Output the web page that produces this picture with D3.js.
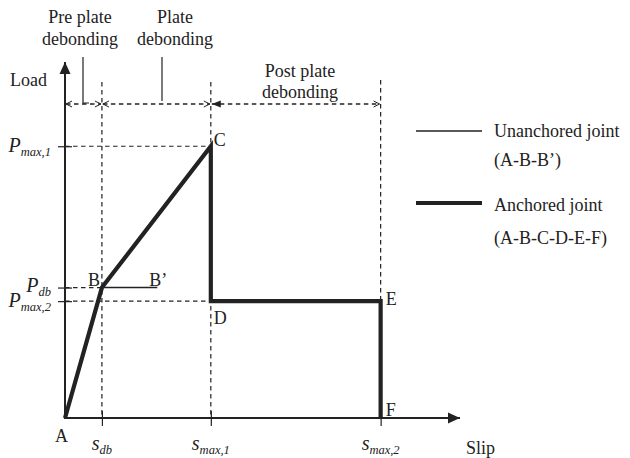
<!DOCTYPE html>
<html>
<head>
<meta charset="utf-8">
<script src="https://cdn.jsdelivr.net/npm/d3@7"></script>
<style>
  body { margin: 0; background: #fff; }
  text { font-family: "Liberation Serif", "Times New Roman", serif; fill: #222; }
</style>
</head>
<body>
<svg id="chart" width="630" height="458"></svg>
<script>
// Characteristic slip levels (abscissa) and load levels (ordinate), in relative units
const slipSymbols = ["s", "s", "s"];
const slipSubs = ["db", "max,1", "max,2"];
const slipValues = [1.0, 3.95, 8.55];

const loadSymbols = ["P", "P", "P"];
const loadSubs = ["max,1", "db", "max,2"];
const loadValues = [100, 48, 43];

// Key points of the load–slip response
const pointNames = ["A", "B", "B’", "C", "D", "E", "F"];
const pointSlip = [0, 1.0, 2.5, 3.95, 3.95, 8.55, 8.55];
const pointLoad = [0, 48, 48, 100, 43, 43, 0];

// Paths through the key points
const unanchoredPath = ["A", "B", "B’"];
const anchoredPath = ["A", "B", "C", "D", "E", "F"];

// Debonding stages along the slip axis
const stageLines = [["Pre plate", "debonding"], ["Plate", "debonding"], ["Post plate", "debonding"]];
const stageFrom = [0, 1.0, 3.95];
const stageTo = [1.0, 3.95, 8.55];

const legendNames = [["Unanchored joint", "(A-B-B’)"], ["Anchored joint", "(A-B-C-D-E-F)"]];
const legendWidths = [1.5, 4.2];

const ink = "#222";
const svg = d3.select("#chart");

const x = d3.scaleLinear().domain([0, 10.7]).range([65, 460]);
const y = d3.scaleLinear().domain([0, 131]).range([418, 62]);

const pt = name => {
  const i = pointNames.indexOf(name);
  return [x(pointSlip[i]), y(pointLoad[i])];
};

// Arrowhead markers
const defs = svg.append("defs");
defs.append("marker").attr("id", "axisHead")
  .attr("viewBox", "0 0 12 12").attr("refX", 12).attr("refY", 6)
  .attr("markerWidth", 12).attr("markerHeight", 12).attr("markerUnits", "userSpaceOnUse")
  .attr("orient", "auto")
  .append("path").attr("d", "M0,0.5 L12,6 L0,11.5 Z").attr("fill", ink);

const dimY = 104;
const dash = "4.5,3.5";

// Dashed guide lines from the axes to the key points
const guides = svg.append("g").attr("stroke", ink).attr("stroke-width", 1.2)
  .attr("stroke-dasharray", dash).attr("fill", "none");
guides.append("line").attr("x1", x(0)).attr("x2", x(slipValues[1])).attr("y1", y(loadValues[0])).attr("y2", y(loadValues[0]));
guides.append("line").attr("x1", x(0)).attr("x2", x(slipValues[0])).attr("y1", y(loadValues[1])).attr("y2", y(loadValues[1]));
guides.append("line").attr("x1", x(0)).attr("x2", x(slipValues[1])).attr("y1", y(loadValues[2])).attr("y2", y(loadValues[2]));
guides.append("line").attr("x1", x(slipValues[0])).attr("x2", x(slipValues[0])).attr("y1", 82).attr("y2", y(0));
guides.append("line").attr("x1", x(slipValues[1])).attr("x2", x(slipValues[1])).attr("y1", 82).attr("y2", y(0));
guides.append("line").attr("x1", x(slipValues[2])).attr("x2", x(slipValues[2])).attr("y1", 80).attr("y2", y(loadValues[2]));

// Axes: ticks cross the axis line
const xAxis = svg.append("g").attr("transform", `translate(0,${y(0)})`)
  .call(d3.axisBottom(x).tickValues(slipValues).tickFormat("").tickSizeInner(8).tickSizeOuter(0));
xAxis.select(".domain").remove();
xAxis.selectAll(".tick line").attr("y1", -7).attr("y2", 8).attr("stroke", ink).attr("stroke-width", 1.2);

const yAxis = svg.append("g").attr("transform", `translate(${x(0)},0)`)
  .call(d3.axisLeft(y).tickValues(loadValues).tickFormat("").tickSizeInner(7).tickSizeOuter(0));
yAxis.select(".domain").remove();
yAxis.selectAll(".tick line").attr("x1", -7).attr("x2", 7).attr("stroke", ink).attr("stroke-width", 1.2);

svg.append("line").attr("x1", x(0)).attr("y1", y(0)).attr("x2", x(10.7)).attr("y2", y(0))
  .attr("stroke", ink).attr("stroke-width", 2).attr("marker-end", "url(#axisHead)");
svg.append("line").attr("x1", x(0)).attr("y1", y(0) + 1).attr("x2", x(0)).attr("y2", y(131))
  .attr("stroke", ink).attr("stroke-width", 2).attr("marker-end", "url(#axisHead)");

// Load–slip curves
const line = d3.line();
svg.append("path").attr("d", line(unanchoredPath.map(pt)))
  .attr("fill", "none").attr("stroke", ink).attr("stroke-width", 1.5);
svg.append("path").attr("d", line(anchoredPath.map(pt)))
  .attr("fill", "none").attr("stroke", ink).attr("stroke-width", 4.2)
  .attr("stroke-linejoin", "miter").attr("stroke-linecap", "butt");

// Stage dimension lines with arrowheads
const dims = svg.append("g").attr("stroke", ink).attr("fill", "none");
stageFrom.forEach((s0, i) => {
  const a = x(s0) + 1, b = x(stageTo[i]) - 1;
  dims.append("line").attr("x1", a).attr("x2", b).attr("y1", dimY).attr("y2", dimY)
    .attr("stroke-width", 1.3).attr("stroke-dasharray", dash);
  // right end: open chevron
  dims.append("path").attr("d", `M${b - 6},${dimY - 3} L${b},${dimY} L${b - 6},${dimY + 3}`)
    .attr("stroke-width", 1);
  if (i < 2) {
    dims.append("path").attr("d", `M${a + 6},${dimY - 3} L${a},${dimY} L${a + 6},${dimY + 3}`)
      .attr("stroke-width", 1);
  } else {
    dims.append("path").attr("d", `M${a},${dimY} L${a + 9},${dimY - 3.5} L${a + 9},${dimY + 3.5} Z`)
      .attr("fill", ink).attr("stroke", "none");
  }
});

// Stage labels and leader lines
const stageCx = [80, 175, 300];
const stageBase = [[23, 45], [23, 45], [77, 98]];
stageLines.forEach((lines, i) => {
  lines.forEach((t, j) => {
    svg.append("text").attr("x", stageCx[i]).attr("y", stageBase[i][j])
      .attr("text-anchor", "middle").attr("font-size", 18).text(t);
  });
});
svg.append("path").attr("d", `M83,57 L83,103 L89,103`).attr("fill", "none").attr("stroke", ink).attr("stroke-width", 1.2);
svg.append("line").attr("x1", 162).attr("x2", 162).attr("y1", 57).attr("y2", 101).attr("stroke", ink).attr("stroke-width", 1.2);

// Axis titles
svg.append("text").attr("x", 10).attr("y", 86).attr("font-size", 18).text("Load");
svg.append("text").attr("x", 466).attr("y", 454).attr("font-size", 18).text("Slip");

// Symbol labels with italic subscripts
function symbolLabel(g, sym, sub, symSize) {
  g.append("tspan").attr("font-style", "italic").attr("font-size", symSize).text(sym);
  g.append("tspan").attr("font-style", "italic").attr("font-size", 12.5).attr("dy", 4).text(sub);
}
loadValues.forEach((v, i) => {
  const t = svg.append("text").attr("x", 51).attr("y", y(v) + (i === 1 ? 4 : 6)).attr("text-anchor", "end");
  symbolLabel(t, loadSymbols[i], loadSubs[i], 20);
});
slipValues.forEach((v, i) => {
  const t = svg.append("text").attr("x", x(v)).attr("y", 450).attr("text-anchor", "middle");
  symbolLabel(t, slipSymbols[i], slipSubs[i], 20);
});

// Point labels
const labelDx = { "A": -10, "B": -14, "B’": -8, "C": 3, "D": 3, "E": 5, "F": 5 };
const labelDy = { "A": 24, "B": -2, "B’": -2, "C": 0, "D": 23, "E": 4, "F": -2 };
pointNames.forEach(n => {
  const [px, py] = pt(n);
  svg.append("text").attr("x", px + labelDx[n]).attr("y", py + labelDy[n])
    .attr("font-size", 18).text(n);
});

// Legend
const legY = [131, 203];
const legBase = [[137, 166], [211, 244]];
legendNames.forEach((lines, i) => {
  svg.append("line").attr("x1", 416).attr("x2", 482).attr("y1", legY[i]).attr("y2", legY[i])
    .attr("stroke", ink).attr("stroke-width", legendWidths[i]);
  lines.forEach((t, j) => {
    svg.append("text").attr("x", 494).attr("y", legBase[i][j]).attr("font-size", 18).text(t);
  });
});
</script>
</body>
</html>
